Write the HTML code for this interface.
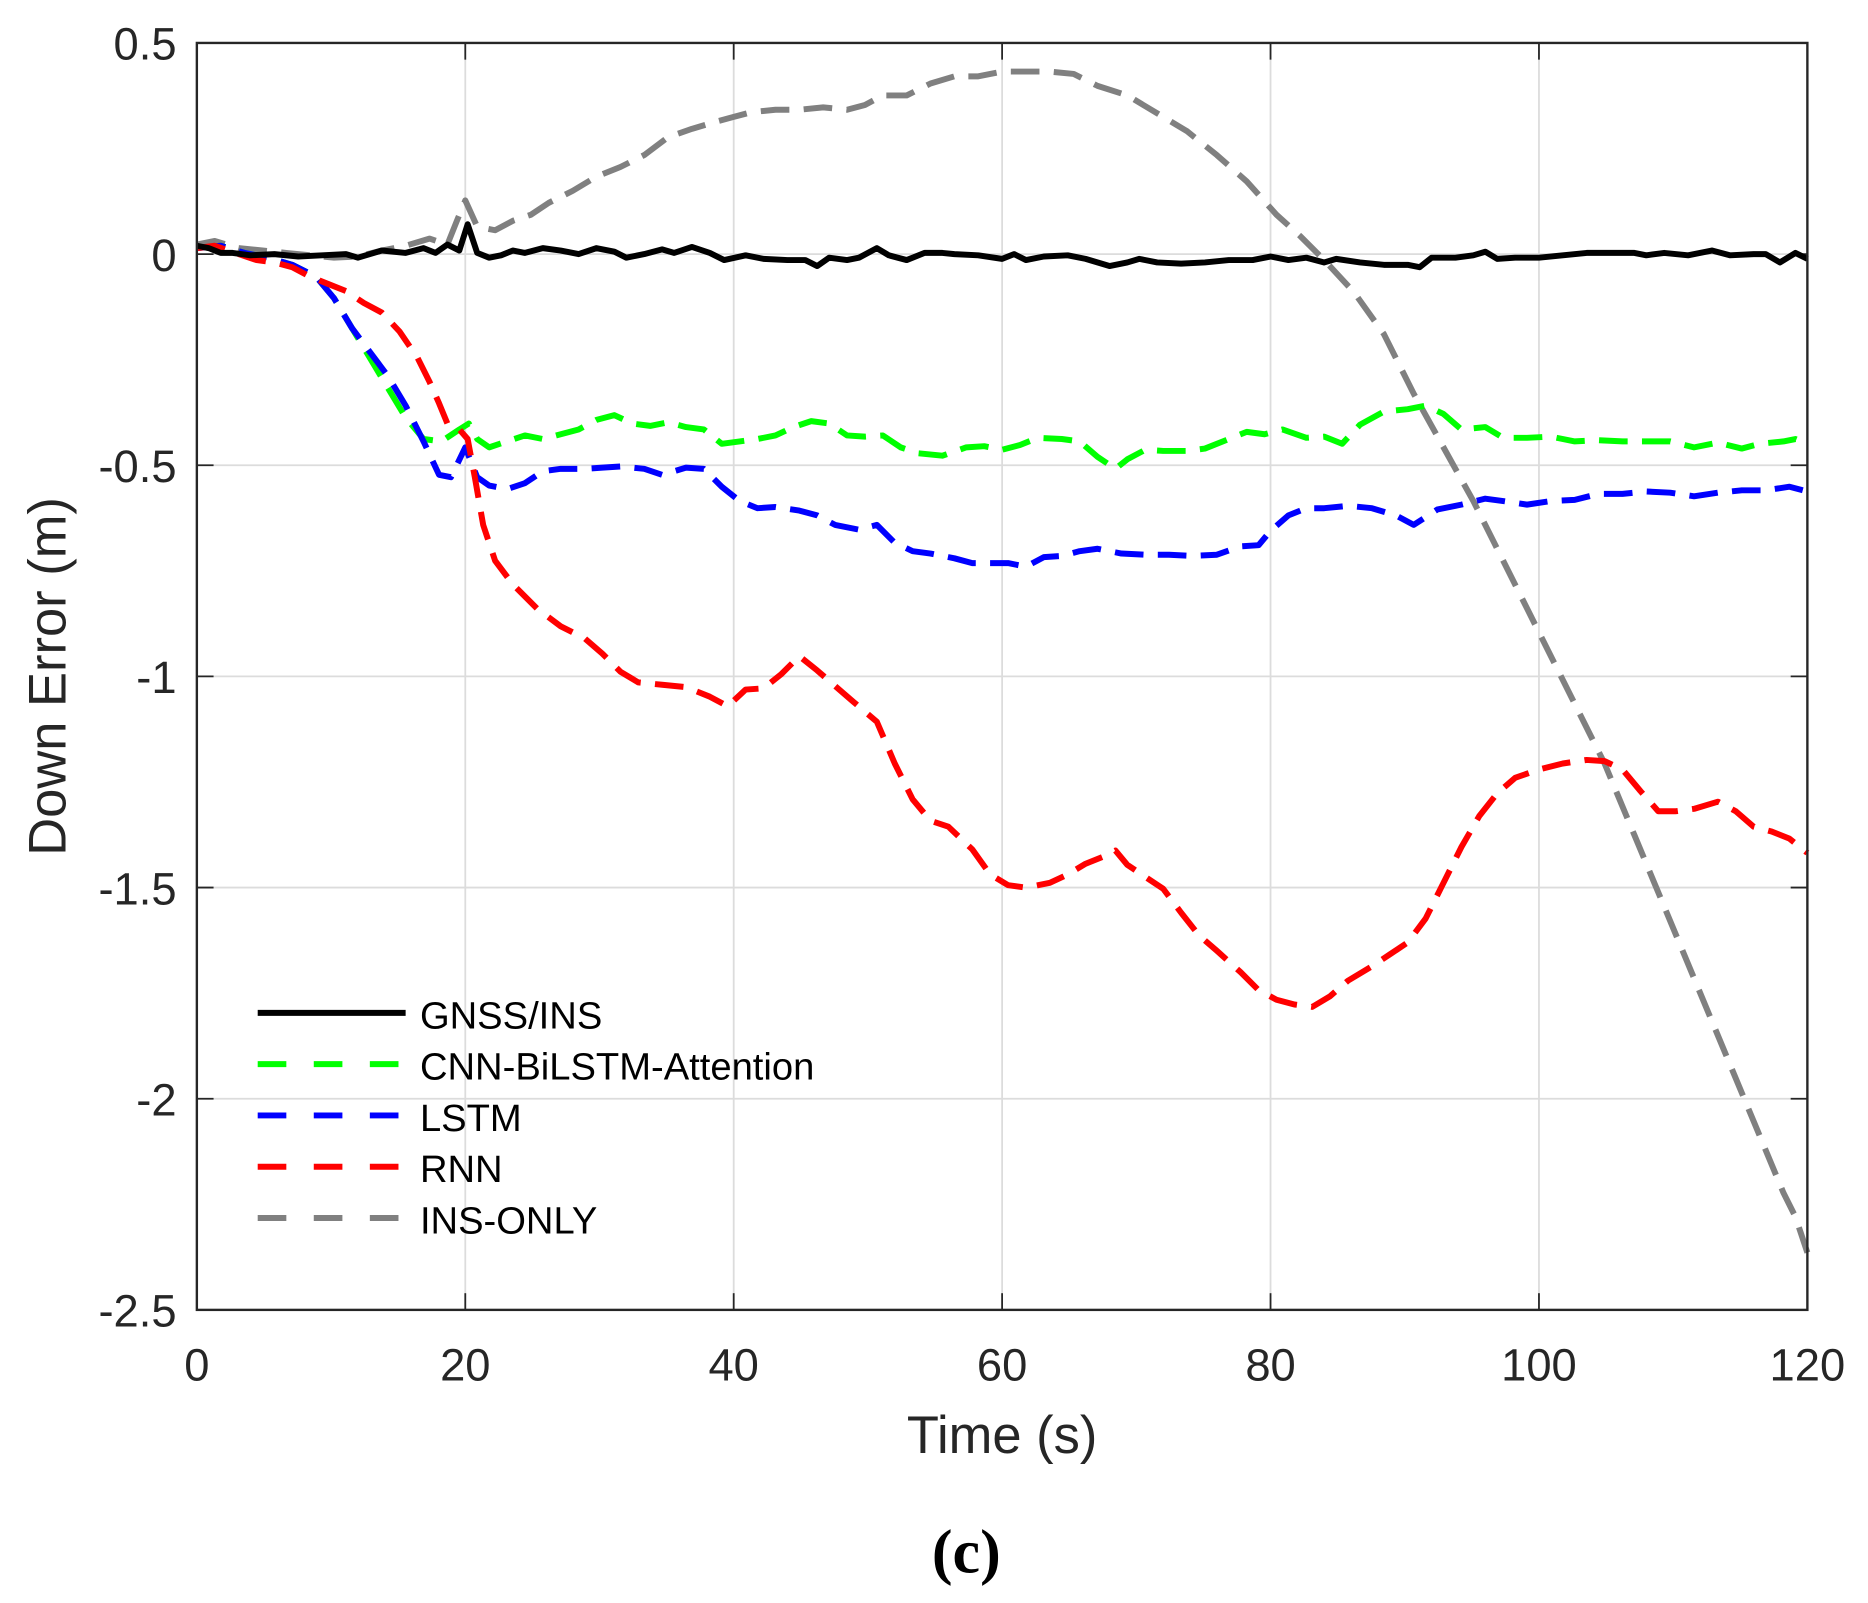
<!DOCTYPE html>
<html><head><meta charset="utf-8"><style>html,body{margin:0;padding:0;background:#fff;}svg{display:block}</style></head>
<body>
<svg width="1868" height="1603" viewBox="0 0 1565.8 1343.7" xmlns="http://www.w3.org/2000/svg" font-family="Liberation Sans, sans-serif">
<rect width="1566" height="1344" fill="#fff"/>
<g stroke="#dcdcdc" stroke-width="1.5">
<line x1="390" y1="36" x2="390" y2="1098"/><line x1="615" y1="36" x2="615" y2="1098"/><line x1="840" y1="36" x2="840" y2="1098"/><line x1="1065" y1="36" x2="1065" y2="1098"/><line x1="1290" y1="36" x2="1290" y2="1098"/>
<line x1="165" y1="213" x2="1515" y2="213"/><line x1="165" y1="390" x2="1515" y2="390"/><line x1="165" y1="567" x2="1515" y2="567"/><line x1="165" y1="744" x2="1515" y2="744"/><line x1="165" y1="921" x2="1515" y2="921"/>
</g>
<g stroke="#262626" stroke-width="1.5">
<line x1="390" y1="1098" x2="390" y2="1084"/><line x1="615" y1="1098" x2="615" y2="1084"/><line x1="840" y1="1098" x2="840" y2="1084"/><line x1="1065" y1="1098" x2="1065" y2="1084"/><line x1="1290" y1="1098" x2="1290" y2="1084"/>
<line x1="390" y1="36" x2="390" y2="50"/><line x1="615" y1="36" x2="615" y2="50"/><line x1="840" y1="36" x2="840" y2="50"/><line x1="1065" y1="36" x2="1065" y2="50"/><line x1="1290" y1="36" x2="1290" y2="50"/>
<line x1="165" y1="213" x2="179" y2="213"/><line x1="165" y1="390" x2="179" y2="390"/><line x1="165" y1="567" x2="179" y2="567"/><line x1="165" y1="744" x2="179" y2="744"/><line x1="165" y1="921" x2="179" y2="921"/>
<line x1="1515" y1="213" x2="1501" y2="213"/><line x1="1515" y1="390" x2="1501" y2="390"/><line x1="1515" y1="567" x2="1501" y2="567"/><line x1="1515" y1="744" x2="1501" y2="744"/><line x1="1515" y1="921" x2="1501" y2="921"/>
</g>
<g fill="none" stroke-width="5" stroke-linejoin="round">
<polyline stroke="#808080" stroke-dasharray="24,12" points="165,205 180,202 200,208 220,210 240,212 260,214 280,216 300,215 320,210 340,206 360,200 375,205 383,185 390,168 400,190 415,193 430,185 445,180 460,170 480,160 500,148 520,140 540,130 560,115 580,108 600,102 615,98 630,94 650,92 670,92 690,90 710,92 725,88 740,80 760,80 780,70 800,64 820,64 840,60 860,60 880,60 900,62 920,72 945,80 970,95 995,110 1020,130 1045,152 1070,180 1090,198 1110,218 1135,245 1160,280 1185,330 1210,375 1235,420 1260,470 1290,530 1320,590 1345,640 1370,700 1395,760 1420,820 1445,880 1470,940 1495,1000 1505,1020 1515,1050"/>
<polyline stroke="#00ff00" stroke-dasharray="24,12" points="165,208 185,206 205,212 225,216 245,222 265,232 280,250 295,275 310,300 325,325 340,350 355,368 370,370 385,360 393,355 400,368 410,375 425,370 440,365 455,368 470,364 485,360 500,352 515,348 530,355 545,357 560,354 575,358 590,360 605,372 620,370 635,368 650,365 665,358 680,353 695,355 710,365 725,366 740,365 755,375 770,380 790,382 810,375 825,374 840,377 855,373 870,367 890,368 905,370 920,383 935,393 945,385 960,377 975,378 995,378 1010,376 1030,368 1045,362 1060,364 1075,360 1095,367 1110,366 1125,372 1140,356 1160,345 1180,343 1195,340 1210,347 1225,360 1245,358 1260,367 1280,367 1300,366 1320,370 1340,369 1360,370 1380,370 1400,370 1420,375 1440,371 1460,376 1475,372 1495,370 1505,368 1515,372"/>
<polyline stroke="#0000ff" stroke-dasharray="24,12" points="165,208 185,206 205,212 225,216 245,222 265,232 280,250 295,275 310,295 325,315 340,340 355,370 368,398 378,400 390,375 400,400 410,407 425,410 440,405 455,395 470,393 490,393 505,392 520,391 540,393 555,398 575,392 590,393 605,408 620,420 635,426 650,425 670,428 685,432 700,440 720,444 735,440 750,455 765,462 780,464 800,468 815,472 830,472 845,472 860,475 875,467 890,466 905,462 920,460 940,464 960,465 980,465 1000,466 1020,465 1040,458 1055,457 1065,445 1080,432 1095,426 1110,426 1130,424 1150,426 1170,432 1185,440 1205,427 1225,423 1245,418 1260,420 1280,423 1300,420 1320,419 1340,414 1360,414 1380,412 1400,413 1420,416 1440,413 1460,411 1480,411 1500,408 1515,412"/>
<polyline stroke="#ff0000" stroke-dasharray="24,12" points="165,208 180,206 200,213 215,218 230,220 245,224 260,232 275,238 290,244 305,254 320,262 335,278 350,300 360,320 368,338 375,355 385,360 392,368 398,400 405,440 415,470 430,490 450,510 470,525 490,535 505,548 520,563 535,572 555,574 575,576 595,584 610,592 625,578 640,577 655,565 670,550 685,562 700,575 715,588 735,605 750,640 765,670 780,688 795,693 815,712 830,733 845,742 860,744 880,740 895,733 910,724 925,718 935,713 945,725 960,735 975,745 990,765 1005,784 1020,797 1040,815 1055,830 1070,838 1085,842 1100,844 1115,835 1130,822 1150,810 1165,800 1180,790 1195,770 1210,740 1225,710 1240,684 1255,665 1270,652 1290,645 1310,640 1330,637 1345,638 1360,645 1375,663 1390,680 1405,680 1420,678 1440,672 1455,680 1470,693 1485,697 1500,703 1515,715"/>
<polyline stroke="#000" points="165,206 175,208 185,212 195,212 210,214 230,213 250,215 270,214 290,213 300,216 320,210 340,212 355,208 365,212 375,205 385,210 392,188 400,212 410,216 420,214 430,210 440,212 455,208 470,210 485,213 500,208 515,211 525,216 540,213 555,209 565,212 580,207 595,212 607,218 625,214 640,217 660,218 675,218 685,223 695,216 710,218 720,216 735,208 745,214 760,218 775,212 790,212 800,213 820,214 840,217 850,213 860,218 875,215 895,214 910,217 930,223 945,220 955,217 970,220 990,221 1010,220 1030,218 1050,218 1065,215 1080,218 1095,216 1110,220 1120,217 1140,220 1160,222 1180,222 1190,224 1200,216 1220,216 1235,214 1245,211 1255,217 1270,216 1290,216 1310,214 1330,212 1350,212 1370,212 1380,214 1395,212 1415,214 1435,210 1450,214 1470,213 1480,213 1492,220 1505,212 1515,217"/>
</g>
<rect x="165" y="36" width="1350" height="1062" fill="none" stroke="#262626" stroke-width="2"/>
<rect x="200" y="825" width="500" height="215" fill="#fff" stroke="none" opacity="0"/>
<g stroke-width="5">
<line x1="216" y1="849" x2="340" y2="849" stroke="#000"/>
<line x1="216" y1="892" x2="340" y2="892" stroke="#00ff00" stroke-dasharray="24,23"/>
<line x1="216" y1="935" x2="340" y2="935" stroke="#0000ff" stroke-dasharray="24,23"/>
<line x1="216" y1="978" x2="340" y2="978" stroke="#ff0000" stroke-dasharray="24,23"/>
<line x1="216" y1="1021" x2="340" y2="1021" stroke="#808080" stroke-dasharray="24,23"/>
</g>
<g font-size="32" fill="#000">
<text x="352" y="862">GNSS/INS</text>
<text x="352" y="905">CNN-BiLSTM-Attention</text>
<text x="352" y="948">LSTM</text>
<text x="352" y="991">RNN</text>
<text x="352" y="1034">INS-ONLY</text>
</g>
<g font-size="38" fill="#262626" text-anchor="end">
<text x="148" y="50">0.5</text><text x="148" y="227">0</text><text x="148" y="404">-0.5</text><text x="148" y="581">-1</text><text x="148" y="758">-1.5</text><text x="148" y="935">-2</text><text x="148" y="1112">-2.5</text>
</g>
<g font-size="38" fill="#262626" text-anchor="middle">
<text x="165" y="1157">0</text><text x="390" y="1157">20</text><text x="615" y="1157">40</text><text x="840" y="1157">60</text><text x="1065" y="1157">80</text><text x="1290" y="1157">100</text><text x="1515" y="1157">120</text>
</g>
<text x="840" y="1218" font-size="44" fill="#262626" text-anchor="middle">Time (s)</text>
<text transform="translate(55,567) rotate(-90)" font-size="44" fill="#262626" text-anchor="middle">Down Error (m)</text>
<text x="810" y="1318" font-size="52" font-weight="bold" font-family="Liberation Serif, serif" text-anchor="middle">(c)</text>
</svg>
</body></html>
